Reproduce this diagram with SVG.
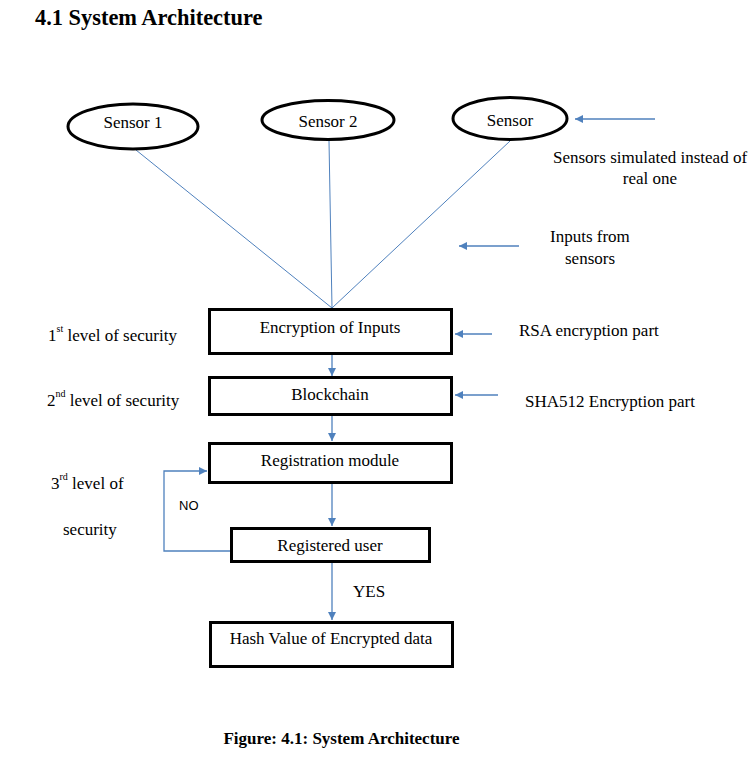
<svg xmlns="http://www.w3.org/2000/svg" width="748" height="761" viewBox="0 0 748 761">
<defs>
<marker id="ah" viewBox="0 0 10 10" refX="10" refY="5" markerWidth="8" markerHeight="8" markerUnits="userSpaceOnUse" orient="auto">
<path d="M0,0 L10,5 L0,10 z" fill="#4f81bd"/>
</marker>
<style>
.t{font-family:"Liberation Serif","Times New Roman",serif;font-size:17px;fill:#000}
.c{text-anchor:middle}
.b{fill:#fff;stroke:#000;stroke-width:3}
.e{fill:#fff;stroke:#000;stroke-width:3}
.ln{fill:none;stroke:#4f81bd;stroke-width:1}
.ar{fill:none;stroke:#4f81bd;stroke-width:1.3;marker-end:url(#ah)}
.sup{font-size:10px}
.s{font-family:"Liberation Sans",Arial,sans-serif;font-size:13px;fill:#000}
</style>
</defs>
<rect width="748" height="761" fill="#fff"/>
<text x="35" y="25" style="font-family:'Liberation Serif','Times New Roman',serif;font-size:22.4px;font-weight:bold">4.1 System Architecture</text>

<g id="connectors">
<line class="ln" x1="136" y1="150" x2="332" y2="308"/>
<line class="ln" x1="329" y1="141" x2="332" y2="308"/>
<line class="ln" x1="510" y1="141" x2="332" y2="308"/>
<line class="ar" x1="655" y1="119" x2="575" y2="119"/>
<line class="ar" x1="519" y1="246" x2="459" y2="246"/>
<line class="ar" x1="492" y1="334" x2="455" y2="334"/>
<line class="ar" x1="498" y1="395" x2="455" y2="395"/>
<line class="ar" x1="332" y1="355" x2="332" y2="376"/>
<line class="ar" x1="332" y1="416" x2="332" y2="441"/>
<line class="ar" x1="332" y1="484" x2="332" y2="526"/>
<line class="ar" x1="332" y1="563" x2="332" y2="620"/>
<polyline class="ar" points="230,551 164,551 164,471 207,471"/>
</g>

<g id="sensor1"><ellipse class="e" cx="133" cy="126.5" rx="65" ry="22.5"/><text class="t c" x="133" y="128">Sensor 1</text></g>
<g id="sensor2"><ellipse class="e" cx="328" cy="120" rx="66" ry="19.5"/><text class="t c" x="328" y="127">Sensor 2</text></g>
<g id="sensor3"><ellipse class="e" cx="510" cy="118.5" rx="57" ry="21"/><text class="t c" x="510" y="126">Sensor</text></g>

<g id="note-sensors"><text class="t" x="553" y="163">Sensors simulated instead of</text><text class="t c" x="650" y="184">real one</text></g>
<g id="note-inputs"><text class="t" x="550" y="242">Inputs from</text><text class="t" x="565" y="264">sensors</text></g>

<g id="encryption"><rect class="b" x="209.5" y="309.5" width="242" height="44"/><text class="t c" x="330" y="333">Encryption of Inputs</text></g>
<g id="blockchain"><rect class="b" x="209.5" y="377.5" width="242" height="37"/><text class="t c" x="330" y="400">Blockchain</text></g>
<g id="registration"><rect class="b" x="209.5" y="443.5" width="242" height="39"/><text class="t c" x="330" y="466">Registration module</text></g>
<g id="registered"><rect class="b" x="231.5" y="528.5" width="198" height="33"/><text class="t c" x="330" y="551">Registered user</text></g>
<g id="hash"><rect class="b" x="210.5" y="622.5" width="242" height="44"/><text class="t c" x="331" y="644">Hash Value of Encrypted data</text></g>

<g id="note-rsa"><text class="t" x="519" y="336">RSA encryption part</text></g>
<g id="note-sha"><text class="t" x="525" y="407">SHA512 Encryption part</text></g>

<g id="level1"><text class="t" x="48" y="341">1<tspan class="sup" dy="-9">st</tspan><tspan dy="9"> level of security</tspan></text></g>
<g id="level2"><text class="t" x="47" y="406">2<tspan class="sup" dy="-9">nd</tspan><tspan dy="9"> level of security</tspan></text></g>
<g id="level3"><text class="t" x="51" y="489">3<tspan class="sup" dy="-9">rd</tspan><tspan dy="9"> level of</tspan></text><text class="t" x="63" y="535">security</text></g>

<text class="s" x="179" y="510">NO</text>
<text class="t" x="353" y="597">YES</text>

<text x="341.5" y="744" text-anchor="middle" style="font-family:'Liberation Serif','Times New Roman',serif;font-size:17px;font-weight:bold">Figure: 4.1: System Architecture</text>
</svg>
